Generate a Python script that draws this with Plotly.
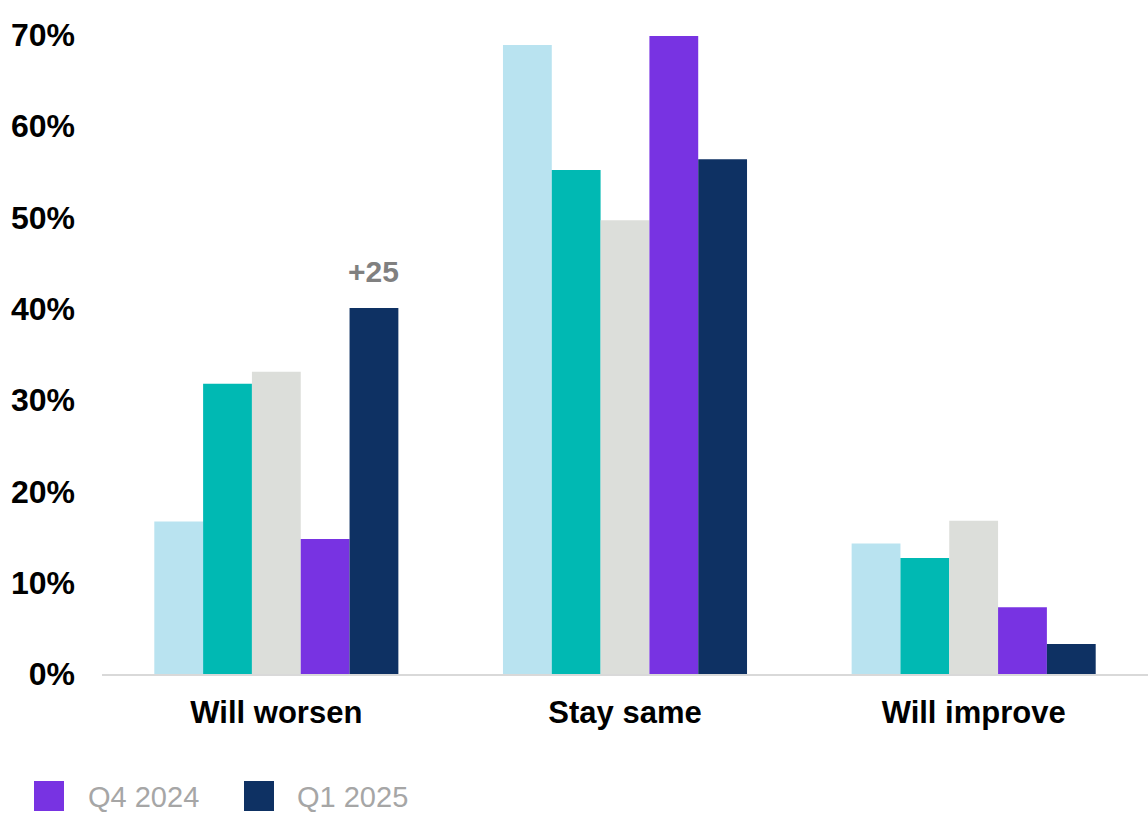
import plotly.graph_objects as go

categories = ["Will worsen", "Stay same", "Will improve"]
series_names = ["Series A", "Series B", "Series C", "Q4 2024", "Q1 2025"]
series_values = [
    [0.167, 0.689, 0.143],
    [0.318, 0.552, 0.127],
    [0.331, 0.497, 0.168],
    [0.148, 0.699, 0.073],
    [0.401, 0.564, 0.033],
]
colors = ["#B9E3F0", "#00B9B3", "#DCDEDA", "#7833E2", "#0E3163"]
legend_names = ["Q4 2024", "Q1 2025"]
annotation_texts = ["+25", "", ""]
y_ticks = [0, 0.1, 0.2, 0.3, 0.4, 0.5, 0.6, 0.7]

W, H = 1148, 814
ML, MR, MT, MB = 102, 0, 35, 140
FONT = "Liberation Sans, Arial, sans-serif"

fig = go.Figure()
for name, vals, col in zip(series_names, series_values, colors):
    fig.add_trace(go.Bar(x=categories, y=vals, name=name, marker_color=col,
                         marker_line_width=0, showlegend=False))

plot_w = W - ML - MR
plot_h = H - MT - MB
n_series = len(series_names)
bargap = 0.3
bar_px = plot_w / len(categories) * (1 - bargap) / n_series

annotations = []
for i, (cat, txt) in enumerate(zip(categories, annotation_texts)):
    if txt:
        annotations.append(dict(
            x=cat, y=series_values[-1][i], xref="x", yref="y", text="<b>%s</b>" % txt,
            showarrow=False, xshift=bar_px * 2, yshift=36, yanchor="middle",
            font=dict(family=FONT, size=30, color="#808080")))

def px_x(px):
    return (px - ML) / plot_w

def px_y(py):
    return (H - MB - py) / plot_h

shapes = []
leg_sq = [(34, 64), (244, 274)]
leg_txt_x = [86, 295]
leg_colors = colors[3:]
for (x0, x1), tx, name, col in zip(leg_sq, leg_txt_x, legend_names, leg_colors):
    shapes.append(dict(type="rect", xref="paper", yref="paper",
                       x0=px_x(x0), x1=px_x(x1), y0=px_y(811), y1=px_y(781),
                       fillcolor=col, line_width=0))
    annotations.append(dict(x=px_x(tx), y=px_y(797), xref="paper", yref="paper",
                            text=name, showarrow=False, xanchor="left", yanchor="middle",
                            font=dict(family=FONT, size=29, color="#A6A6A6")))

fig.update_layout(
    width=W, height=H,
    margin=dict(l=ML, r=MR, t=MT, b=MB, pad=0),
    barmode="group", bargap=bargap, bargroupgap=0,
    plot_bgcolor="white", paper_bgcolor="white",
    font=dict(family=FONT, color="black"),
    annotations=annotations, shapes=shapes,
    xaxis=dict(showline=True, linecolor="#D9D9D9", linewidth=2, showgrid=False,
               ticks="", tickfont=dict(family=FONT, size=31, color="black", weight="bold"),
               ticklabelstandoff=10, fixedrange=True),
    yaxis=dict(range=[0, 0.7], tickvals=y_ticks, tickformat=".0%", showgrid=False,
               zeroline=False, showline=False, ticks="",
               tickfont=dict(family=FONT, size=32, color="black", weight="bold"),
               ticklabelstandoff=26, fixedrange=True),
)

fig.write_html("out.html", config={"displayModeBar": False})
